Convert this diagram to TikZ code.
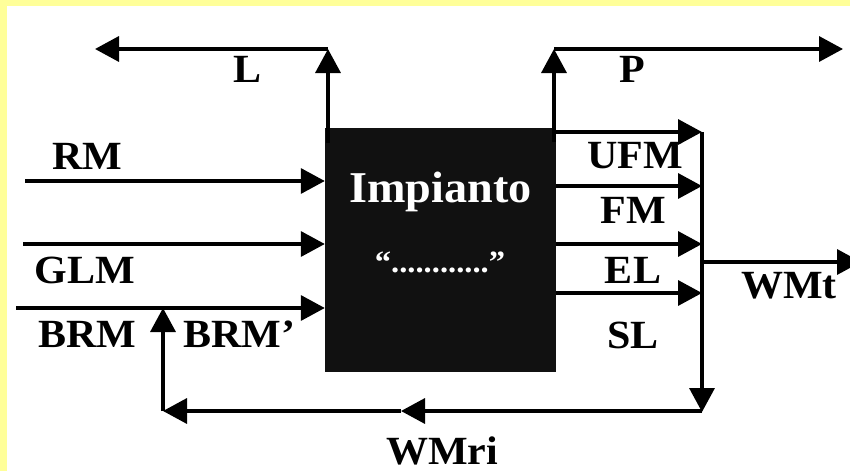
\documentclass[tikz,border=0pt]{standalone}
\usepackage{fontspec}
\setmainfont{Liberation Serif}[FakeStretch=1.05]
\usetikzlibrary{arrows.meta}
\definecolor{slideyellow}{HTML}{FFFF99}
\definecolor{boxblack}{HTML}{111111}

\begin{document}
\begin{tikzpicture}[x=1pt,y=-1pt,
  flow/.style={line width=3.5pt, -{Triangle[length=24pt,width=25pt]}},
  lbl/.style={anchor=base, inner sep=0pt, font=\fontsize{40}{40}\selectfont\bfseries},
]
\useasboundingbox (0,0) rectangle (850,471);
% slide background
\fill[slideyellow] (0,0) rectangle (850,471);
\fill[white] (7,5.5) rectangle (850,471);

% the plant block
\node[fill=boxblack, minimum width=231pt, minimum height=244pt, inner sep=0pt] (plant) at (440.5,250) {};
\node[lbl, text=white, font=\fontsize{44}{44}\selectfont\bfseries] (name) at (440.5,202) {Impianto};
\node[lbl, text=white, font=\fontsize{31}{31}\selectfont\bfseries] (dots) at (440,272) {“............”};

% connection points
\coordinate (lFoot) at (328,143);
\coordinate (lUp) at (328,49);
\coordinate (lEnd) at (95,49);
\coordinate (pFoot) at (554,142);
\coordinate (pUp) at (554,49);
\coordinate (pEnd) at (843,49);
\coordinate (rmS) at (25,181);
\coordinate (glmS) at (23,244);
\coordinate (brmS) at (16,308);
\coordinate (ufmE) at (702,132);
\coordinate (fmE) at (702,186);
\coordinate (elE) at (702,244);
\coordinate (slE) at (702,293);
\coordinate (colBot) at (702,412);
\coordinate (wmtS) at (702,262);
\coordinate (wmtE) at (861,262);
\coordinate (fbR) at (702,411);
\coordinate (fbM) at (401,411);
\coordinate (fbL) at (163,411);
\coordinate (fbUp) at (163,308);

% losses and products leaving the top
\draw[flow] (lFoot) -- (lUp);
\draw[flow] (lUp) -- (lEnd);
\draw[flow] (pFoot) -- (pUp);
\draw[flow] (pUp) -- (pEnd);

% inputs
\draw[flow] (rmS) -- (rmS -| plant.west);
\draw[flow] (glmS) -- (glmS -| plant.west);
\draw[flow] (brmS) -- (brmS -| plant.west);

% outputs to the collector
\draw[flow] (ufmE -| plant.east) -- (ufmE);
\draw[flow] (fmE -| plant.east) -- (fmE);
\draw[flow] (elE -| plant.east) -- (elE);
\draw[flow] (slE -| plant.east) -- (slE);
\draw[flow] (ufmE) -- (colBot);
\draw[flow] (wmtS) -- (wmtE);

% recycle loop
\draw[flow] (fbR) -- (fbM);
\draw[flow] (fbM) -- (fbL);
\draw[flow] (fbL) -- (fbUp);

% labels
\node[lbl] (tL) at (248,82) {L};
\node[lbl] (tP) at (632,82) {P};
\node[lbl] (tRM) at (87,169) {RM};
\node[lbl] (tGLM) at (85,283) {GLM};
\node[lbl] (tBRM) at (87,347) {BRM};
\node[lbl] (tBRMp) at (239,347) {BRM’};
\node[lbl] (tUFM) at (635,168) {UFM};
\node[lbl] (tFM) at (633,223) {FM};
\node[lbl] (tEL) at (633,283) {EL};
\node[lbl] (tSL) at (633,348) {SL};
\node[lbl] (tWMt) at (789,298) {WMt};
\node[lbl] (tWMri) at (442,464) {WMri};
\end{tikzpicture}
\end{document}
